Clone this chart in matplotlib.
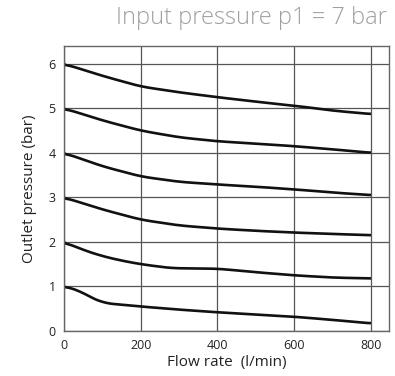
import numpy as np
from matplotlib import pyplot as plt

plt.rcParams['font.family'] = ['Open Sans', 'DejaVu Sans']

# flow rate (l/min) and outlet pressure (bar)
flow6 = [0, 100, 200, 300, 400, 500, 600, 700, 800]
p6 = [6.0, 5.73, 5.49, 5.36, 5.25, 5.15, 5.06, 4.95, 4.87]

flow5 = [0, 100, 200, 300, 400, 500, 600, 700, 800]
p5 = [5.0, 4.73, 4.5, 4.35, 4.26, 4.21, 4.15, 4.08, 4.0]

flow4 = [0, 100, 200, 300, 400, 500, 600, 700, 800]
p4 = [4.0, 3.7, 3.47, 3.35, 3.29, 3.24, 3.18, 3.11, 3.05]

flow3 = [0, 100, 200, 300, 400, 500, 600, 700, 800]
p3 = [3.0, 2.73, 2.5, 2.37, 2.3, 2.25, 2.21, 2.18, 2.15]

flow2 = [0, 50, 100, 150, 200, 280, 400, 500, 600, 700, 800]
p2 = [2.0, 1.82, 1.68, 1.58, 1.5, 1.41, 1.4, 1.32, 1.25, 1.2, 1.18]

flow1 = [0, 30, 60, 100, 200, 300, 400, 500, 600, 700, 800]
p1 = [1.0, 0.95, 0.8, 0.63, 0.55, 0.48, 0.42, 0.37, 0.32, 0.25, 0.17]

curves = [(flow6, p6), (flow5, p5), (flow4, p4), (flow3, p3), (flow2, p2), (flow1, p1)]

xticks = [0, 200, 400, 600, 800]
yticks = [0, 1, 2, 3, 4, 5, 6]

fig = plt.figure(figsize=(3.95, 3.76), dpi=100)
ax = fig.add_axes([64 / 395, 45 / 376, 325 / 395, 285 / 376])

for x, y in curves:
    # smooth the line between read points a bit
    xs = np.linspace(x[0], x[-1], 200)
    ys = np.interp(xs, x, y)
    k = np.ones(15) / 15
    ys_s = np.convolve(np.pad(ys, 7, mode='edge'), k, mode='valid')
    ys_s[0] = y[0]
    ax.plot(xs, ys_s, color='#111111', lw=1.9, solid_capstyle='butt')

ax.set_xlim(0, 847)
ax.set_ylim(0, 6.4)
ax.set_xticks(xticks)
ax.set_yticks(yticks)
ax.grid(True, color='#555555', lw=0.9)
ax.set_axisbelow(True)
for s in ax.spines.values():
    s.set_color('#666666')
    s.set_linewidth(1.0)
ax.tick_params(length=0, labelsize=9, colors='#222222', pad=6)

ax.set_xlabel('Flow rate  (l/min)', fontsize=11, color='#222222', labelpad=2)
ax.set_ylabel('Outlet pressure (bar)', fontsize=11, color='#222222', labelpad=8)

fig.text(0.98, 0.952, 'Input pressure p1 = 7 bar', ha='right', va='center',
         fontsize=17, color='#a0a0a0', fontweight='light')

fig.savefig('out.png', dpi=100)
